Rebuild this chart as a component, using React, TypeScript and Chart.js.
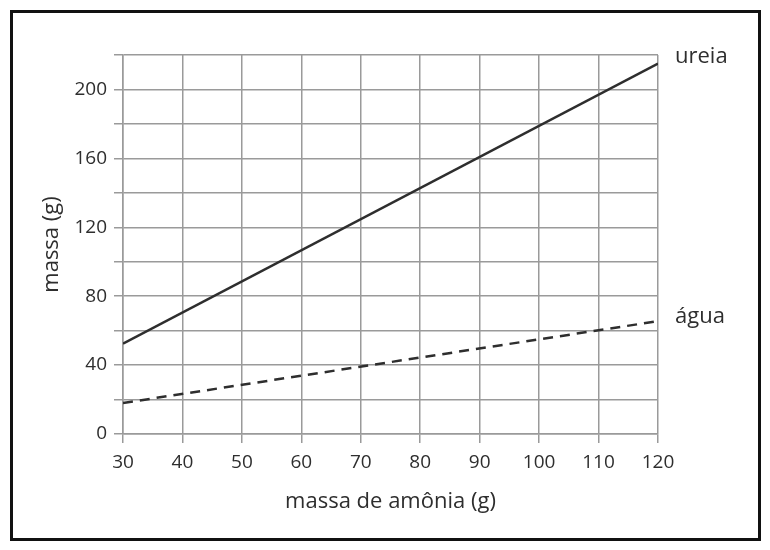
import { useEffect, useRef } from 'react'
import Chart from 'chart.js/auto'

const amonia = [30, 120]
const ureia = [52.5, 215]
const agua = [18, 65.5]
const seriesNames = ['ureia', 'água']

const FONT = '"Open Sans", "DejaVu Sans", sans-serif'
const INK = '#2e2e2e'
const GRID = '#9a9a9a'

const endLabels = {
  id: 'endLabels',
  afterDatasetsDraw(chart: any) {
    const { ctx } = chart
    ctx.save()
    ctx.font = `22px ${FONT}`
    ctx.fillStyle = INK
    ctx.textBaseline = 'middle'
    chart.data.datasets.forEach((ds: any, i: number) => {
      const last = ds.data[ds.data.length - 1]
      const x = chart.scales.x.getPixelForValue(last.x) + 17
      const y = chart.scales.y.getPixelForValue(last.y) - (i === 0 ? 7 : 4)
      ctx.fillText(ds.label, x, y)
    })
    ctx.restore()
  },
}

export default function App() {
  const ref = useRef<HTMLCanvasElement>(null)
  useEffect(() => {
    document.body.style.margin = '0'
    if (!ref.current) return
    const chart = new Chart(ref.current, {
      type: 'scatter',
      data: {
        datasets: [
          {
            label: seriesNames[0],
            data: amonia.map((x, i) => ({ x, y: ureia[i] })),
            showLine: true,
            borderColor: INK,
            borderWidth: 2.5,
            pointRadius: 0,
          },
          {
            label: seriesNames[1],
            data: amonia.map((x, i) => ({ x, y: agua[i] })),
            showLine: true,
            borderColor: INK,
            borderWidth: 2.5,
            borderDash: [10, 7],
            pointRadius: 0,
          },
        ],
      },
      options: {
        responsive: false,
        animation: false,
        layout: { padding: { left: 28, right: 112, top: 55, bottom: 30 } },
        plugins: { legend: { display: false }, tooltip: { enabled: false } },
        scales: {
          x: {
            type: 'linear',
            min: 30,
            max: 120,
            afterFit: (s: any) => { s.height = 86 },
            ticks: { stepSize: 10, padding: 8, color: INK, font: { family: FONT, size: 19 } },
            grid: { color: GRID, lineWidth: 1.5, tickLength: 9, tickColor: GRID },
            border: { color: GRID, width: 1.5 },
            title: { display: true, text: 'massa de amônia (g)', color: INK, font: { family: FONT, size: 22 }, padding: { top: 0, bottom: 5 } },
          },
          y: {
            min: 0,
            max: 220,
            afterFit: (s: any) => { s.width = 95 },
            ticks: {
              stepSize: 20,
              padding: 7,
              color: INK,
              font: { family: FONT, size: 19 },
              callback: (v: any) => (Number(v) % 40 === 0 ? String(v) : ''),
            },
            grid: { color: GRID, lineWidth: 1.5, tickLength: 9, tickColor: GRID },
            border: { color: GRID, width: 1.5 },
            title: { display: true, text: 'massa (g)', color: INK, font: { family: FONT, size: 22 }, padding: { top: 11, bottom: 0 } },
          },
        },
      },
      plugins: [endLabels],
    })
    return () => chart.destroy()
  }, [])
  return (
    <div style={{ position: 'relative', width: 770, height: 550, background: '#fff' }}>
      <div style={{ position: 'absolute', left: 10, top: 10, width: 751, height: 531, boxSizing: 'border-box', border: '3.5px solid #111' }} />
      <canvas ref={ref} width={770} height={550} style={{ position: 'absolute', left: 0, top: 0 }} />
    </div>
  )
}
